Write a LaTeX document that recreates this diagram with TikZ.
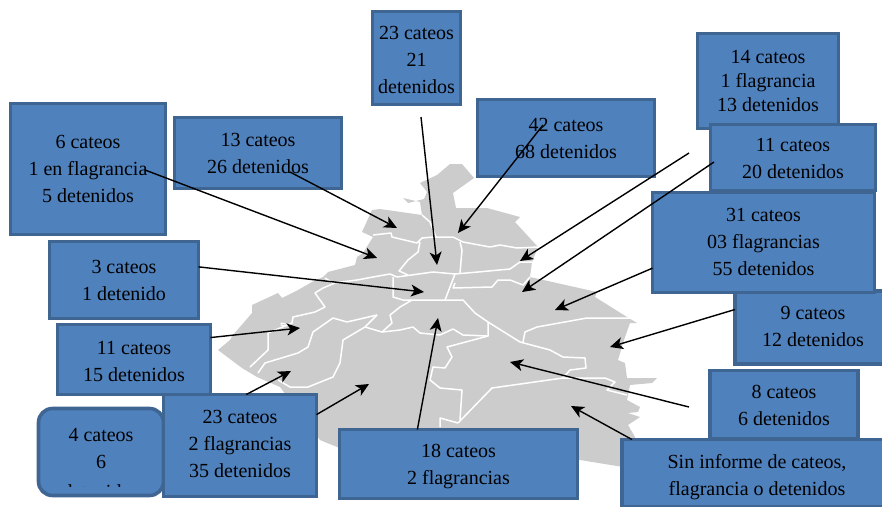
\documentclass[tikz,border=0pt]{standalone}
\usepackage{fontspec}
\setmainfont{Liberation Serif}
\usetikzlibrary{arrows.meta}
\definecolor{relleno}{HTML}{4F81BD}
\definecolor{borde}{HTML}{3F6593}
\definecolor{tierra}{HTML}{CCCCCC}
\tikzset{
  cuadro/.style={draw=borde, fill=relleno, line width=3.6pt, inner sep=0pt, outer sep=0pt, align=center, text=black, font=\fontsize{20}{27}\selectfont},
  flecha/.style={line width=1.4pt, black, -{Stealth[length=13pt, width=12pt, inset=3.5pt]}},
  limite/.style={white, line width=1.5pt, line join=round}
}
\begin{document}
\begin{tikzpicture}[x=1pt, y=-1pt]
  \useasboundingbox (0,0) rectangle (882,506);
  % mapa
  \fill[tierra] (372,210)--(380,209)--(422,215)--(420,202)--(403,198)--(408,203)--(424,199)--(427,192)--(420,183)--(437,175)--(450,164)--(462,164)--(474,178)--(453,193)--(456,208)--(487,208)--(520,217)--(515,222)--(538,247)--(532,262)--(530,277)--(597,292)--(595,297)--(627,317)--(637,323)--(630,323)--(624,340)--(618,360)--(625,363)--(627,378)--(657,378)--(652,383)--(630,385)--(627,400)--(640,407)--(638,412)--(628,413)--(640,417)--(628,425)--(635,437)--(623,467)--(580,460)--(450,490)--(337,447)--(320,440)--(280,387)--(257,377)--(242,368)--(218,350)--(230,340)--(233,335)--(252,313)--(252,305)--(278,293)--(282,298)--(298,290)--(312,282)--(323,277)--(328,272)--(355,265)--(357,257)--(363,253)--(373,237)--(362,232)--cycle;
  \draw[limite] (373,235)--(391,233)--(392,237)--(417,243)--(422,238)--(433,237)--(453,237)--(463,242)--(490,247)--(500,245)--(517,248)--(538,247);
  \draw[limite] (422,215)--(430,222)--(436,237);
  \draw[limite] (420,242)--(418,252)--(408,260)--(399,271)--(408,275);
  \draw[limite] (325,278)--(333,283)--(357,280)--(373,277)--(390,274)--(397,277)--(433,272)--(455,274)--(478,272)--(510,269)--(520,262)--(532,262);
  \draw[limite] (460,242)--(462,250)--(460,273);
  \draw[limite] (393,277)--(393,297)--(403,300)--(413,300)--(445,300)--(463,300)--(475,313)--(488,322)--(488,336)--(463,335)--(453,329)--(440,335)--(420,333)--(413,327)--(400,330)--(382,332)--(365,327);
  \draw[limite] (455,274)--(445,300);
  \draw[limite] (455,283)--(453,288)--(492,287)--(498,280)--(510,280)--(523,285)--(530,277);
  \draw[limite] (488,322)--(520,342)--(550,350)--(563,357)--(585,358)--(586,368)--(570,370)--(563,378);
  \draw[limite] (458,423)--(492,388)--(563,378)--(605,378)--(615,382)--(607,390)--(627,395);
  \draw[limite] (458,423)--(440,418)--(440,427);
  \draw[limite] (460,420)--(462,390)--(440,388)--(430,380)--(433,367)--(445,368)--(452,357)--(447,347)--(488,336);
  \draw[limite] (523,342)--(525,332)--(537,327)--(587,318)--(630,318);
  \draw[limite] (412,300)--(400,307)--(390,315)--(392,323)--(382,332);
  \draw[limite] (365,327)--(343,340)--(340,363)--(333,377)--(308,387)--(290,387)--(278,380);
  \draw[limite] (377,315)--(365,327);
  \draw[limite] (377,315)--(347,322)--(333,318)--(313,332)--(308,347)--(298,353)--(265,363)--(258,373);
  \draw[limite] (335,283)--(323,288)--(315,293)--(320,300)--(325,307)--(315,312)--(293,317)--(292,323)--(268,333)--(268,350)--(250,367);
  \draw[limite, line width=1pt] (292,323)--(285,326)--(281,325)--(281,323)--(286,324);
  % cuadros
  \node[cuadro, minimum width=141pt, minimum height=95pt, font=\fontsize{20}{24}\selectfont] (catE) at (768,81) {14 cateos\\1 flagrancia\\13 detenidos};
  \node[cuadro, minimum width=165pt, minimum height=66pt, text height=43pt] (catF) at (793,157.5) {11 cateos\\20 detenidos};
  \node[cuadro, minimum width=156pt, minimum height=73pt, text depth=2pt] (catH) at (813,327.5) {9 cateos\\12 detenidos};
  \node[cuadro, minimum width=222pt, minimum height=100pt, text depth=2pt] (catG) at (763.5,242.5) {31 cateos\\03 flagrancias\\55 detenidos};
  \node[cuadro, minimum width=148pt, minimum height=68pt, text height=43pt] (catI) at (784,404.5) {8 cateos\\6 detenidos};
  \node[cuadro, minimum width=270pt, minimum height=67pt, text height=49pt] (catJ) at (757,473) {Sin informe de cateos,\\flagrancia o detenidos};
  \node[cuadro, rounded corners=14pt, minimum width=125pt, minimum height=87pt, text depth=7pt] (catM) at (101,452) {4 cateos\\6};
  \begin{scope}
    \clip (37,407) rectangle (165,486);
    \node[font=\fontsize{20}{27}\selectfont] (textoM) at (101,492) {detenidos};
  \end{scope}
  \node[cuadro, minimum width=153pt, minimum height=70pt, text height=44pt] (catN) at (134,359.5) {11 cateos\\15 detenidos};
  \node[cuadro, minimum width=153pt, minimum height=102pt, text depth=4pt] (catL) at (240,445.5) {23 cateos\\2 flagrancias\\35 detenidos};
  \node[cuadro, minimum width=149pt, minimum height=77pt] (catO) at (124,280) {3 cateos\\1 detenido};
  \node[cuadro, minimum width=155pt, minimum height=131pt] (catA) at (88,169) {6 cateos\\1 en flagrancia\\5 detenidos};
  \node[cuadro, minimum width=167pt, minimum height=71pt] (catB) at (258,153) {13 cateos\\26 detenidos};
  \node[cuadro, minimum width=88pt, minimum height=93pt, text height=72pt] (catC) at (416.5,58) {23 cateos\\21\\detenidos};
  \node[cuadro, minimum width=177pt, minimum height=77pt] (catD) at (566,138) {42 cateos\\68 detenidos};
  \node[cuadro, minimum width=238pt, minimum height=69pt, text depth=0.3pt] (catK) at (458.5,464) {18 cateos\\2 flagrancias};
  % puntas y colas
  \coordinate (colaA) at (145,170);
  \coordinate (puntaA) at (377,258);
  \coordinate (colaB) at (290,172);
  \coordinate (puntaB) at (397,228);
  \coordinate (colaC) at (421,117);
  \coordinate (puntaC) at (437,265);
  \coordinate (colaD) at (543,125);
  \coordinate (puntaD) at (458,233);
  \coordinate (colaE) at (689,153);
  \coordinate (puntaE) at (520,261);
  \coordinate (colaF) at (714,162);
  \coordinate (puntaF) at (522,292);
  \coordinate (puntaG) at (555,310);
  \coordinate (puntaH) at (610,347);
  \coordinate (colaI) at (689,407);
  \coordinate (puntaI) at (510,362);
  \coordinate (puntaJ) at (571,406);
  \coordinate (puntaK) at (438,318);
  \coordinate (puntaL) at (369,384);
  \coordinate (puntaLdos) at (291,371);
  \coordinate (puntaN) at (300,328);
  \coordinate (puntaO) at (424,292);
  % flechas
  \draw[flecha] (colaA) -- (puntaA);
  \draw[flecha] (colaB) -- (puntaB);
  \draw[flecha] (colaC) -- (puntaC);
  \draw[flecha] (colaD) -- (puntaD);
  \draw[flecha] (colaE) -- (puntaE);
  \draw[flecha] (colaF) -- (puntaF);
  \draw[flecha] (catG.193.3) -- (puntaG);
  \draw[flecha] (catH.167) -- (puntaH);
  \draw[flecha] (colaI) -- (puntaI);
  \draw[flecha] (catJ.165.3) -- (puntaJ);
  \draw[flecha] (catK.140.4) -- (puntaK);
  \draw[flecha] (catL.22.6) -- (puntaL);
  \draw[flecha] (catL.83.5) -- (puntaLdos);
  \draw[flecha] (catN.16.1) -- (puntaN);
  \draw[flecha] (catO.10.4) -- (puntaO);
\end{tikzpicture}
\end{document}
